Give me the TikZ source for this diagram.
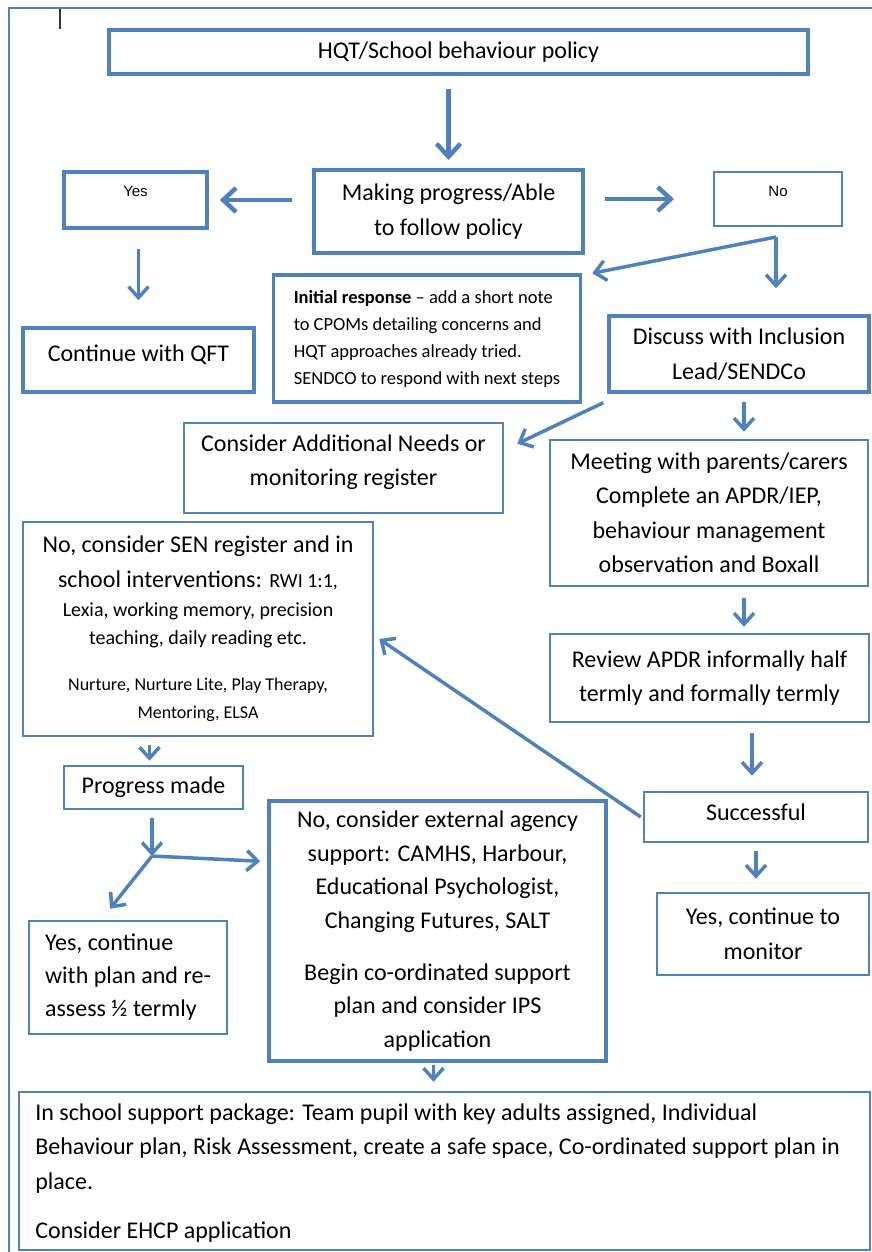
\documentclass[tikz,border=0pt]{standalone}
\usepackage{fontspec}
\setmainfont{Carlito}
\newfontfamily\arialfont{Liberation Sans}
\usetikzlibrary{arrows.meta}
\definecolor{flowblue}{HTML}{4F81BD}
\tikzset{
  box/.style={draw=flowblue, line width=2.5pt, inner sep=0pt, align=center,
    font=\fontsize{24}{34.5}\selectfont},
  boxthick/.style={box, line width=4pt},
  yesno/.style={font=\arialfont\fontsize{15}{18}\selectfont, text height=10.8pt},
  arr/.style={draw=flowblue, line width=3.5pt, -{Straight Barb[length=11pt,width=20pt]}},
  arrbig/.style={arr, line width=4.5pt, -{Straight Barb[length=13pt,width=24pt]}},
}

\begin{document}
\begin{tikzpicture}[x=1pt, y=-1pt]
	\clip (0,0) rectangle (872,1252);
	% page frame and cursor mark
	\draw[flowblue, line width=2pt] (9,1262) -- (9,8) -- (882,8);
	\draw[black!80, line width=1.3pt] (60,9) -- (60,29);
	
	\node[boxthick, minimum width=699pt, minimum height=44pt] (hqt) at (458.5,52) {HQT/School behaviour policy};
	\node[boxthick, line width=3.5pt, minimum width=143pt, minimum height=56pt, yesno, text depth=18pt] (yes) at (135.5,200) {Yes};
	\node[boxthick, minimum width=269pt, minimum height=83pt] (prog) at (448.5,211.5) {Making progress/Able\\to follow policy};
	\node[box, line width=2pt, minimum width=128pt, minimum height=54pt, yesno, text depth=16pt] (no) at (778,199) {No};
	
	\node[boxthick, line width=3.5pt, minimum width=231pt, minimum height=64pt, text depth=14pt] (qft) at (138.5,360) {Continue with QFT};
	\node[boxthick, line width=3.5pt, minimum width=307pt, minimum height=127pt, align=left, font=\fontsize{18.5}{27}\selectfont] (init) at (427,338.5) {\textbf{Initial response} – add a short note\\to CPOMs detailing concerns and\\HQT approaches already tried.\\SENDCO to respond with next steps};
	\node[box, line width=3.5pt, minimum width=260pt, minimum height=76pt] (disc) at (739,354) {Discuss with Inclusion\\Lead/SENDCo};
	
	\node[box, minimum width=319pt, minimum height=90pt, text depth=16pt] (addn) at (343.5,468) {Consider Additional Needs or\\monitoring register};
	\node[box, minimum width=318pt, minimum height=146pt] (meet) at (709,513) {Meeting with parents/carers\\Complete an APDR/IEP,\\behaviour management\\observation and Boxall};
	
	\node[box, minimum width=350pt, minimum height=214pt, font=\fontsize{24}{28}\selectfont] (sen) at (198,629) {No, consider SEN register and in\\[7pt]school interventions: {\fontsize{20}{24}\selectfont RWI 1:1,}\\[0.8pt]{\fontsize{20}{24}\selectfont Lexia, working memory, precision}\\{\fontsize{20}{24}\selectfont teaching, daily reading etc.}\\[18.3pt]{\fontsize{18}{22}\selectfont Nurture, Nurture Lite, Play Therapy,}\\{\fontsize{18}{22}\selectfont Mentoring, ELSA}};
	\node[box, minimum width=319pt, minimum height=88pt] (rev) at (709.5,678) {Review APDR informally half\\termly and formally termly};
	
	\node[box, minimum width=224pt, minimum height=50pt, text depth=9.5pt] (succ) at (756,817) {Successful};
	\node[box, minimum width=179pt, minimum height=43pt] (pm) at (153.5,787.5) {Progress made};
	\node[boxthick, line width=3.5pt, minimum width=337pt, minimum height=260pt, font=\fontsize{24}{33.7}\selectfont] (ext) at (437.5,931) {No, consider external agency\\support: CAMHS, Harbour,\\Educational Psychologist,\\Changing Futures, SALT\\[18pt]Begin co-ordinated support\\plan and consider IPS\\application};
	\node[box, minimum width=198pt, minimum height=113pt, align=left, font=\fontsize{24}{33}\selectfont] (yescont) at (128,977.5) {Yes, continue\\with plan and re-\\assess ½ termly};
	\node[box, minimum width=212pt, minimum height=82pt] (mon) at (763,934) {Yes, continue to\\monitor};
	
	\node[box, minimum width=851pt, minimum height=158pt, align=left, text depth=0pt] (supp) at (444.5,1171) {In school support package: Team pupil with key adults assigned, Individual\\Behaviour plan, Risk Assessment, create a safe space, Co-ordinated support plan in\rule{14pt}{0pt}\\place.\\[15pt]Consider EHCP application};
	
	\coordinate (nosplit) at (776,237);
	\coordinate (pmsplit) at (152,856);
	
	\draw[arrbig, shorten <=13pt, shorten >=8pt] (prog.north |- hqt.south) -- (prog.north);
	\draw[arrbig, shorten <=20pt, shorten >=11pt] (prog.west |- yes.east) -- (yes.east);
	\draw[arrbig, shorten <=20pt, shorten >=39pt] (prog.east |- no.west) -- (no.west);
	\draw[arr] (nosplit) -- ([xshift=10pt]init.north east);
	\draw[arr, shorten >=26pt] (nosplit) -- (nosplit |- disc.north);
	\draw[arr, shorten <=19pt, shorten >=26pt] (qft.north |- yes.south) -- (qft.north);
	\draw[arr] ([xshift=-4pt,yshift=-9pt]disc.south west) -- ([xshift=13pt,yshift=-22pt]addn.north east);
	\draw[arr, shorten <=8pt, shorten >=7pt] ([xshift=5pt]disc.south) -- ([xshift=5pt]disc.south |- meet.north);
	\draw[arr, shorten <=11pt, shorten >=6pt] ([xshift=35pt]meet.south) -- ([xshift=35pt]meet.south |- rev.north);
	\draw[arr, shorten <=10pt, shorten >=15pt] ([xshift=-4pt]succ.north |- rev.south) -- ([xshift=-4pt]succ.north);
	\draw[arr] ([xshift=-2pt]succ.west) -- ([xshift=5pt,yshift=-10pt]sen.east);
	\draw[arr, shorten <=8pt, shorten >=13pt] (succ.south) -- (succ.south |- mon.north);
	\draw[arr, shorten <=8pt, shorten >=4pt] ([xshift=-4pt]pm.north |- sen.south) -- ([xshift=-4pt]pm.north);
	\draw[arr, shorten <=8pt] ([xshift=-1.5pt]pm.south) -- (pmsplit);
	\draw[arr] (pmsplit) -- ([xshift=-7pt,yshift=-62pt]ext.north west);
	\draw[arr] (pmsplit) -- ([xshift=-18pt,yshift=11pt]yescont.north);
	\draw[arr, shorten <=2pt, shorten >=9pt] ([xshift=-4pt]ext.south) -- ([xshift=-4pt]ext.south |- supp.north);
\end{tikzpicture}
\end{document}
